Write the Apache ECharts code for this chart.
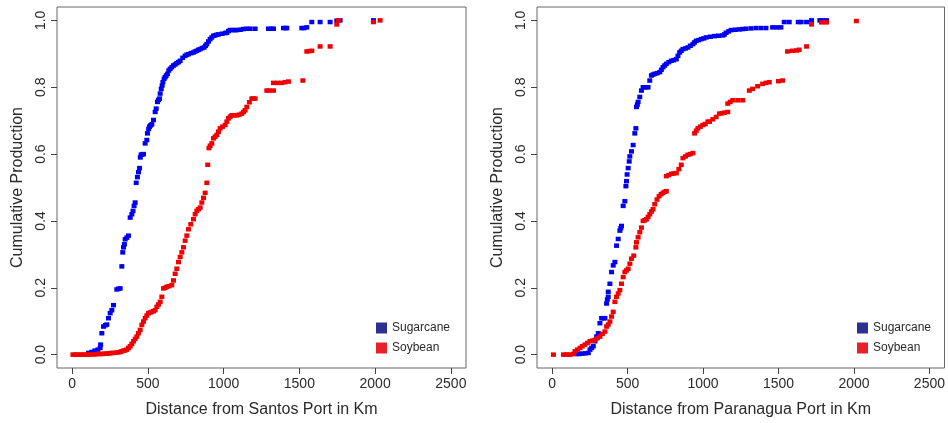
<!DOCTYPE html>
<html>
<head>
<meta charset="utf-8">
<script src="https://cdn.jsdelivr.net/npm/echarts@6/dist/echarts.min.js"></script>
<style>
  html, body { margin: 0; padding: 0; background: #fff; }
  #chart { width: 948px; height: 423px; }
</style>
</head>
<body>
<div id="chart"></div>
<script>
// tick labels
var xTicks = [0, 500, 1000, 1500, 2000, 2500]
var yTicks = [0, 0.2, 0.4, 0.6, 0.8, 1.0]
var seriesNames = ['Sugarcane', 'Soybean']

// [distance km, cumulative production]
var santosSugarcane = [
  [108, 0.005], [130, 0.008], [150, 0.012], [170, 0.015], [185, 0.02], [188, 0.03], [196, 0.064], [207, 0.084],
  [220, 0.088], [229, 0.09], [240, 0.109], [251, 0.124], [262, 0.133], [273, 0.148], [295, 0.195], [306, 0.197],
  [317, 0.198], [328, 0.264], [334, 0.306], [339, 0.321], [345, 0.33], [350, 0.345], [361, 0.35], [372, 0.356],
  [383, 0.41], [394, 0.42], [402, 0.43], [409, 0.445], [416, 0.455], [423, 0.514], [431, 0.531], [438, 0.546],
  [445, 0.558], [450, 0.59], [455, 0.598], [463, 0.599], [471, 0.6], [482, 0.632], [493, 0.642], [497, 0.662],
  [505, 0.675], [511, 0.682], [518, 0.686], [526, 0.689], [537, 0.702], [548, 0.726], [555, 0.736], [563, 0.756],
  [570, 0.762], [577, 0.766], [581, 0.781], [588, 0.795], [594, 0.805], [599, 0.815], [607, 0.825], [614, 0.83],
  [621, 0.835], [629, 0.84], [638, 0.85], [647, 0.855], [658, 0.86], [669, 0.865], [680, 0.868], [691, 0.872],
  [702, 0.875], [713, 0.879], [730, 0.888], [746, 0.894], [757, 0.897], [768, 0.899], [785, 0.902], [801, 0.904],
  [812, 0.907], [823, 0.909], [834, 0.912], [845, 0.914], [858, 0.917], [871, 0.919], [880, 0.924], [889, 0.929],
  [900, 0.937], [911, 0.944], [922, 0.949], [933, 0.954], [944, 0.955], [955, 0.957], [966, 0.958], [990, 0.96],
  [1010, 0.962], [1021, 0.963], [1032, 0.968], [1043, 0.971], [1060, 0.971], [1075, 0.971], [1087, 0.971], [1110, 0.972],
  [1130, 0.974], [1153, 0.975], [1175, 0.975], [1208, 0.975], [1296, 0.975], [1315, 0.975], [1329, 0.975], [1395, 0.977],
  [1410, 0.977], [1417, 0.977], [1516, 0.977], [1530, 0.977], [1549, 0.979], [1582, 0.995], [1637, 0.995], [1703, 0.995],
  [1747, 0.999], [1769, 1.0], [1989, 1.0]
]
var santosSoybean = [
  [5, 0], [20, 0], [35, 0], [50, 0], [65, 0], [80, 0], [95, 0], [110, 0], [125, 0.001], [140, 0.001], [155, 0.001],
  [170, 0.002], [185, 0.002], [200, 0.002], [215, 0.003], [230, 0.003], [245, 0.004], [260, 0.005], [273, 0.005],
  [290, 0.006], [305, 0.007], [318, 0.008], [328, 0.01], [340, 0.012], [350, 0.013], [361, 0.015], [372, 0.02],
  [383, 0.025], [394, 0.032], [405, 0.04], [416, 0.047], [427, 0.054], [438, 0.064], [449, 0.074], [460, 0.089],
  [471, 0.099], [482, 0.109], [493, 0.117], [504, 0.124], [515, 0.126], [526, 0.128], [537, 0.13], [548, 0.133],
  [559, 0.143], [570, 0.15], [581, 0.158], [592, 0.173], [603, 0.198], [614, 0.2], [625, 0.203], [641, 0.205],
  [658, 0.208], [669, 0.222], [680, 0.242], [691, 0.257], [702, 0.277], [713, 0.292], [724, 0.306], [735, 0.321],
  [746, 0.341], [757, 0.356], [768, 0.375], [783, 0.39], [801, 0.405], [812, 0.42], [823, 0.43], [834, 0.435],
  [845, 0.44], [856, 0.455], [867, 0.469], [878, 0.484], [889, 0.514], [895, 0.568], [903, 0.618], [911, 0.625],
  [922, 0.632], [933, 0.647], [944, 0.652], [955, 0.657], [966, 0.667], [977, 0.677], [993, 0.682], [1010, 0.687],
  [1021, 0.697], [1032, 0.707], [1043, 0.712], [1054, 0.716], [1070, 0.716], [1087, 0.716], [1103, 0.718], [1120, 0.721],
  [1131, 0.726], [1142, 0.731], [1153, 0.741], [1170, 0.755], [1186, 0.766], [1197, 0.766], [1208, 0.766], [1285, 0.79],
  [1300, 0.79], [1329, 0.79], [1329, 0.813], [1355, 0.813], [1384, 0.813], [1406, 0.815], [1428, 0.817], [1523, 0.82],
  [1549, 0.907], [1565, 0.908], [1582, 0.909], [1637, 0.922], [1703, 0.922], [1747, 0.988], [1757, 1.0], [1989, 0.995],
  [2033, 1.0]
]
var paranaguaSugarcane = [
  [163, 0.002], [180, 0.002], [200, 0.003], [220, 0.004], [240, 0.005], [251, 0.015], [262, 0.02], [273, 0.025],
  [284, 0.04], [295, 0.054], [306, 0.064], [317, 0.094], [328, 0.109], [339, 0.109], [350, 0.109], [361, 0.153],
  [366, 0.165], [372, 0.173], [372, 0.188], [383, 0.212], [394, 0.247], [405, 0.267], [416, 0.277], [427, 0.326],
  [438, 0.346], [449, 0.371], [455, 0.378], [460, 0.385], [471, 0.445], [482, 0.459], [489, 0.504], [493, 0.519],
  [497, 0.539], [504, 0.558], [511, 0.578], [515, 0.593], [526, 0.608], [537, 0.627], [548, 0.662], [555, 0.677],
  [559, 0.741], [565, 0.748], [570, 0.756], [581, 0.771], [592, 0.79], [603, 0.8], [614, 0.8], [625, 0.8],
  [636, 0.8], [647, 0.82], [658, 0.835], [669, 0.838], [680, 0.84], [696, 0.842], [713, 0.845], [724, 0.852],
  [735, 0.86], [746, 0.865], [757, 0.87], [773, 0.875], [790, 0.879], [806, 0.881], [823, 0.884], [834, 0.894],
  [845, 0.904], [856, 0.909], [867, 0.914], [884, 0.916], [900, 0.919], [916, 0.924], [933, 0.929], [944, 0.934],
  [955, 0.939], [972, 0.941], [988, 0.944], [1005, 0.946], [1021, 0.949], [1048, 0.951], [1076, 0.953], [1103, 0.954],
  [1131, 0.955], [1142, 0.958], [1153, 0.963], [1170, 0.967], [1186, 0.971], [1213, 0.972], [1241, 0.973], [1263, 0.974],
  [1285, 0.975], [1318, 0.976], [1351, 0.977], [1384, 0.977], [1417, 0.977], [1461, 0.979], [1490, 0.979], [1516, 0.979],
  [1538, 0.995], [1571, 0.995], [1631, 0.995], [1650, 0.995], [1686, 0.995], [1719, 1.0], [1774, 1.0], [1790, 1.0],
  [1818, 1.0]
]
var paranaguaSoybean = [
  [9, 0], [75, 0], [90, 0], [105, 0], [120, 0], [141, 0.002], [152, 0.01], [168, 0.015], [185, 0.02], [200, 0.025],
  [218, 0.03], [235, 0.035], [251, 0.04], [268, 0.042], [284, 0.044], [300, 0.049], [317, 0.054], [333, 0.062],
  [350, 0.069], [361, 0.084], [372, 0.09], [383, 0.099], [394, 0.114], [405, 0.128], [416, 0.158], [427, 0.173],
  [438, 0.183], [449, 0.193], [460, 0.212], [471, 0.232], [482, 0.247], [493, 0.252], [504, 0.257], [515, 0.272],
  [526, 0.287], [541, 0.296], [555, 0.321], [559, 0.336], [570, 0.351], [581, 0.366], [592, 0.38], [603, 0.4],
  [614, 0.402], [625, 0.405], [636, 0.412], [647, 0.42], [658, 0.428], [669, 0.435], [680, 0.45], [695, 0.464],
  [709, 0.474], [722, 0.48], [735, 0.484], [746, 0.487], [757, 0.489], [757, 0.534], [773, 0.537], [790, 0.541],
  [806, 0.542], [823, 0.543], [840, 0.555], [856, 0.568], [867, 0.588], [884, 0.593], [900, 0.598], [916, 0.6],
  [933, 0.603], [944, 0.662], [955, 0.67], [966, 0.677], [982, 0.682], [999, 0.687], [1015, 0.69], [1032, 0.697],
  [1043, 0.697], [1065, 0.704], [1087, 0.711], [1109, 0.721], [1125, 0.722], [1142, 0.724], [1164, 0.726], [1164, 0.751],
  [1180, 0.756], [1197, 0.761], [1230, 0.761], [1263, 0.761], [1307, 0.79], [1329, 0.795], [1362, 0.803], [1395, 0.81],
  [1417, 0.813], [1439, 0.815], [1500, 0.818], [1527, 0.82], [1560, 0.907], [1593, 0.909], [1620, 0.91], [1637, 0.912],
  [1686, 0.922], [1719, 0.988], [1785, 0.994], [1818, 0.994], [2016, 0.998]
]

var textColor = '#2a2a2a'
var fontFamily = 'Liberation Sans, Arial, sans-serif'
var pointColors = ['#0000f0', '#f00000']
var legendColors = ['#2b3192', '#e8202a']

function makeGrid (left) {
  return {
    left: left,
    top: 7,
    width: 409,
    height: 365,
    show: true,
    borderColor: '#666',
    borderWidth: 1,
    backgroundColor: '#fff'
  }
}

function makeXAxis (idx, title) {
  return {
    gridIndex: idx,
    type: 'value',
    min: -100,
    max: 2600,
    name: title,
    nameLocation: 'middle',
    nameGap: 34,
    nameTextStyle: { color: textColor, fontSize: 16, fontFamily: fontFamily },
    axisLine: { show: false, onZero: false },
    splitLine: { show: false },
    axisTick: { show: true, inside: false, length: 6, customValues: xTicks, lineStyle: { color: '#444' } },
    axisLabel: {
      color: textColor,
      fontSize: 14,
      fontFamily: fontFamily,
      margin: 9,
      customValues: xTicks,
      formatter: function (v) { return String(v) }
    }
  }
}

function makeYAxis (idx) {
  return {
    gridIndex: idx,
    type: 'value',
    min: -0.04,
    max: 1.04,
    name: 'Cumulative Production',
    nameLocation: 'middle',
    nameGap: 31,
    nameTextStyle: { color: textColor, fontSize: 16, fontFamily: fontFamily },
    axisLine: { show: false, onZero: false },
    splitLine: { show: false },
    axisTick: { show: true, inside: false, length: 6, customValues: yTicks, lineStyle: { color: '#444' } },
    axisLabel: {
      color: textColor,
      fontSize: 14,
      fontFamily: fontFamily,
      rotate: 90,
      margin: 9,
      customValues: yTicks,
      formatter: function (v) { return v.toFixed(1) }
    }
  }
}

function makeSeries (name, idx, data, color) {
  return {
    name: name,
    type: 'scatter',
    xAxisIndex: idx,
    yAxisIndex: idx,
    symbol: 'rect',
    symbolSize: [5, 4.5],
    itemStyle: { color: color, opacity: 1 },
    silent: true,
    data: data
  }
}

function makeLegend (left) {
  return {
    orient: 'vertical',
    left: left,
    top: 322,
    itemWidth: 11,
    itemHeight: 11,
    itemGap: 8,
    padding: 0,
    selectedMode: false,
    textStyle: { color: textColor, fontSize: 12, fontFamily: fontFamily },
    data: [
      { name: seriesNames[0], icon: 'rect', itemStyle: { color: legendColors[0], opacity: 1 } },
      { name: seriesNames[1], icon: 'rect', itemStyle: { color: legendColors[1], opacity: 1 } }
    ]
  }
}

var chart = echarts.init(document.getElementById('chart'))
chart.setOption({
  backgroundColor: '#fff',
  animation: false,
  grid: [makeGrid(57), makeGrid(537)],
  xAxis: [makeXAxis(0, 'Distance from Santos Port in Km'), makeXAxis(1, 'Distance from Paranagua Port in Km')],
  yAxis: [makeYAxis(0), makeYAxis(1)],
  legend: [makeLegend(376), makeLegend(857)],
  series: [
    makeSeries(seriesNames[0], 0, santosSugarcane, pointColors[0]),
    makeSeries(seriesNames[1], 0, santosSoybean, pointColors[1]),
    makeSeries(seriesNames[0], 1, paranaguaSugarcane, pointColors[0]),
    makeSeries(seriesNames[1], 1, paranaguaSoybean, pointColors[1])
  ]
})
</script>
</body>
</html>
